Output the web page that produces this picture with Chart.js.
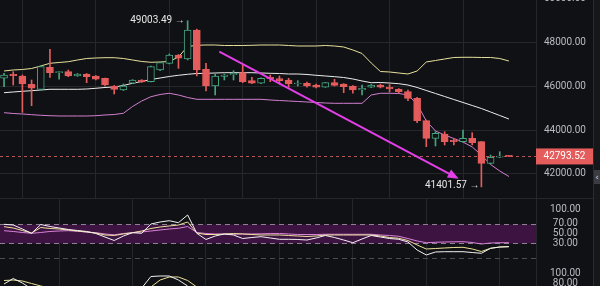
<!DOCTYPE html>
<html>
<head>
<meta charset="utf-8">
<script src="https://cdn.jsdelivr.net/npm/chart.js@4.4.1/dist/chart.umd.min.js"></script>
<style>
  html, body { margin: 0; padding: 0; background: #101114; }
  #wrap { position: relative; width: 600px; height: 286px; overflow: hidden; background: #101114; }
  .pane { position: absolute; left: 0; width: 593px; }
  #mainBox { top: 0; height: 199px; }
  #rsiBox { top: 199px; height: 62px; }
  #kdBox { top: 261px; height: 25px; }
  #strip { position: absolute; left: 593px; top: 0; width: 7px; height: 286px; background: #16171a; border-left: 1px solid #2a2c30; box-sizing: border-box; }
  #handle { position: absolute; left: 0; top: 170px; width: 6px; height: 14px; background: #3a3c41; color: #d8d8d8; font: 9px "DejaVu Sans", sans-serif; line-height: 14px; text-align: center; }
</style>
</head>
<body>
<div id="wrap">
  <div class="pane" id="mainBox"><canvas id="main"></canvas></div>
  <div class="pane" id="rsiBox"><canvas id="rsi"></canvas></div>
  <div class="pane" id="kdBox"><canvas id="kd"></canvas></div>
  <div id="strip"><div id="handle">‹</div></div>
</div>
<script>
// candles, oldest first
const opens  = [46371,46554,46476,46096,45867,46874,46627,46673,46476,46567,46476,46371,46018,45835,46142,46293,46215,46750,47057,47437,47254,48581,46783,46018,46453,46522,46627,46261,46142,46416,46352,46293,46110,46142,46064,45959,46169,46110,46018,45835,45959,46064,45959,45867,45757,45455,44430,43624,43821,43547,43469,43624,43469,42480,42755,42814];
const highs  = [46599,46673,46522,46293,46934,47698,46682,46750,46590,46590,46499,46384,46041,46110,46310,46310,46934,47110,47483,47460,49003.49,48620,47057,46567,46567,46718,46979,46416,46390,46522,46476,46371,46261,46201,46110,46180,46325,46130,46040,46064,46090,46110,46087,45900,45835,45501,44462,43926,43926,43624,44004,43881,43480,42860,43011,42830];
const lows   = [45986,46064,44810,45116,45835,46416,46325,46444,46460,46169,46293,46018,45652,45810,46130,46180,46200,46720,47030,46828,47210,46480,45789,45606,46293,46293,46169,46130,46130,46215,46110,45959,46018,45959,45930,45950,46018,45711,45684,45606,45940,45930,45743,45698,45345,44338,43240,43272,43318,43318,43450,43318,41401.57,42450,42740,42780];
const closes = [46522,46490,46110,45913,46902,46627,46673,46476,46567,46444,46325,46064,45867,46018,46293,46201,46902,47085,47437,47286,48581,46750,46018,46476,46522,46599,46215,46142,46371,46352,46261,46110,46142,46018,45959,46169,46050,45986,45835,45913,46064,45959,45881,45757,45455,44430,43624,43853,43469,43469,43624,43423,42480,42755,42814,42793.52];

// bollinger bands
const bbUpper = [46705,46751,46773,46819,46934,47057,47094,47130,47208,47277,47300,47313,47313,47277,47208,47140,47103,47117,47140,47345,47826,47881,47895,47895,47872,47872,47872,47881,47895,47895,47895,47872,47849,47849,47849,47872,47849,47803,47666,47506,47071,46682,46659,46613,46567,46705,47117,47185,47254,47323,47332,47332,47323,47323,47277,47162];
const bbMid   = [45711,45744,45776,45803,45835,45867,45867,45867,45867,45881,45913,45950,45972,46041,46142,46224,46316,46384,46453,46508,46554,46590,46599,46613,46627,46627,46627,46627,46613,46599,46590,46567,46567,46545,46508,46476,46444,46407,46339,46247,46169,46178,46155,46123,46064,45950,45812,45675,45538,45400,45263,45126,44988,44828,44668,44508];
const bbLower = [44796,44760,44737,44705,44677,44659,44645,44645,44645,44645,44659,44691,44714,44769,45080,45332,45528,45629,45684,45606,45492,45409,45409,45409,45409,45409,45409,45409,45409,45377,45354,45332,45309,45286,45263,45240,45226,45226,45226,45226,45606,45684,45684,45675,45606,45194,44416,43959,43775,43615,43455,43226,42860,42425,42128,41876];

// rsi (6 / 12 / 24)
const rsiFast = [69.4,67.9,59.6,50.7,69,64.8,61.7,58.6,56.5,54.5,50.3,43,35.8,45.1,52,50.7,70,74.1,76.8,72.7,88.7,50.7,37.9,45.1,49.3,47.2,39.9,42,43.7,41,38.3,38.3,37.9,36.8,41,46.2,42,36.8,31.2,38.9,46.2,43,39.9,38.3,32.7,16.1,5.8,12,12.6,12.6,12.6,10.9,9.3,19.6,22.3,23];
const rsiMid  = [64.4,61.7,56.5,51.3,62.7,60.7,59.6,57.6,55.5,53.4,51.3,47.2,46.2,49.3,52,55.5,60.7,63.8,65.9,67.9,74.1,51.3,48.2,48.2,49.3,50.3,49.3,48.2,47.2,47.2,47.2,46.2,45.1,44.1,45.1,47.2,47.2,47.2,47.2,47.2,47.2,45.1,42,40.4,35.8,26.5,18.2,19.2,20.3,21.3,21.7,18.2,13,19.6,22.3,23];
const rsiSlow = [56.1,54.5,52.4,50.7,52.4,54.5,55.5,56.1,54.9,53.4,52,49.3,47.6,50.3,52,53.4,55.5,57.6,59.6,61.1,64.8,52.4,50.3,49.3,48.7,48.7,49.3,49.3,49.7,50.3,50.3,49.3,48.2,48.2,48.2,48.7,48.7,48.7,48.7,48.7,48.7,47.2,46.2,44.5,39.9,34.8,31.2,32.1,32.7,33.1,33.3,31.7,28.5,30.6,31.2,31.2];

// bottom panel (only the top of it is in view)
const kLine = [78,89,80,68,62,58,55,50,46,40,35,28,22,30,48,70,93,94,94,86,74,52,35,30,33,38,32,28,30,27,24,20,22,18,20,28,26,20,15,22,30,28,24,20,14,8,5,12,15,14,20,18,10,20,30,36];
const dLine = [85,86,84,79,74,70,62,56,50,45,40,34,28,27,33,50,72,86,92,92,85,72,54,40,33,34,35,33,30,28,27,24,22,20,20,22,25,25,20,19,22,27,27,24,19,14,9,8,11,14,16,17,14,16,20,29];

const priceTicks = [42000, 44000, 46000, 48000, 50000];
const rsiTicks = [30, 50, 70, 100];
const kdTicks = [80, 100];
const gridCols = [6, 14, 22, 30, 38, 46, 54];
const lastPrice = 42793.52;
const trendLine = [{ x: 23.45, y: 47588 }, { x: 49.24, y: 41839 }];

const BG = "#101114";
const GRID = "#25272b";
const TXT = "#b9bcc2";
const RED = "#e45c5c";
const GREEN = "#45a47f";
const FONT = "Roboto, 'Liberation Sans', sans-serif";

Chart.defaults.font.family = FONT;
Chart.defaults.font.size = 10;
Chart.defaults.color = TXT;

const up = i => closes[i] >= opens[i];

function xAxis() {
  return {
    type: "linear",
    min: -0.44,
    max: 57.95,
    offset: false,
    afterBuildTicks: s => { s.ticks = gridCols.map(v => ({ value: v })); },
    afterFit: s => { s.height = 0; },
    ticks: { display: false },
    grid: { color: GRID, drawTicks: false },
    border: { display: false }
  };
}

function yAxis(min, max, ticks, padding, extra) {
  return Object.assign({
    position: "right",
    min: min,
    max: max,
    afterBuildTicks: s => { s.ticks = ticks.map(v => ({ value: v })); },
    afterFit: s => { s.width = 57; s.paddingTop = 0; s.paddingBottom = 0; },
    ticks: { color: TXT, padding: padding, crossAlign: "center", autoSkip: false, callback: v => Number(v).toFixed(2) },
    grid: { display: false, drawTicks: false },
    border: { color: GRID }
  }, extra || {});
}

const baseOpts = {
  responsive: true,
  maintainAspectRatio: false,
  animation: false,
  events: [],
  layout: { padding: 0 },
  plugins: { legend: { display: false }, tooltip: { enabled: false } }
};

function line(data, color, order) {
  return {
    type: "line",
    data: data.map((v, i) => ({ x: i, y: v })),
    borderColor: color,
    borderWidth: 1,
    pointRadius: 0,
    tension: 0,
    order: order
  };
}

const mainMarks = {
  id: "mainMarks",
  beforeDatasetsDraw(chart) {
    const { ctx, chartArea: a, scales: { y } } = chart;
    const py = Math.round(y.getPixelForValue(lastPrice)) + 0.5;
    ctx.save();
    ctx.strokeStyle = "rgba(214,96,96,0.85)";
    ctx.lineWidth = 1;
    ctx.setLineDash([3, 3]);
    ctx.beginPath();
    ctx.moveTo(a.left, py);
    ctx.lineTo(a.right, py);
    ctx.stroke();
    ctx.restore();
  },
  afterDatasetsDraw(chart) {
    const { ctx, chartArea: a, scales: { x, y } } = chart;
    ctx.save();

    // arrow head on the trend line
    const pts = chart.getDatasetMeta(chart.data.datasets.length - 1).data;
    const p0 = pts[0], p1 = pts[1];
    const ang = Math.atan2(p1.y - p0.y, p1.x - p0.x);
    ctx.fillStyle = "#e33fe8";
    ctx.beginPath();
    ctx.moveTo(p1.x + Math.cos(ang) * 3, p1.y + Math.sin(ang) * 3);
    ctx.lineTo(p1.x - Math.cos(ang) * 8 + Math.sin(ang) * 4.5, p1.y - Math.sin(ang) * 8 - Math.cos(ang) * 4.5);
    ctx.lineTo(p1.x - Math.cos(ang) * 8 - Math.sin(ang) * 4.5, p1.y - Math.sin(ang) * 8 + Math.cos(ang) * 4.5);
    ctx.closePath();
    ctx.fill();

    // highest / lowest labels
    let hi = 0, lo = 0;
    highs.forEach((v, i) => { if (v > highs[hi]) hi = i; });
    lows.forEach((v, i) => { if (v < lows[lo]) lo = i; });
    ctx.font = "10px " + FONT;
    ctx.fillStyle = "#e6e6e6";
    ctx.textAlign = "right";
    ctx.textBaseline = "middle";
    ctx.fillText(highs[hi].toFixed(2) + " →", x.getPixelForValue(hi) - 3, y.getPixelForValue(highs[hi]));
    ctx.fillText(lows[lo].toFixed(2) + " →", x.getPixelForValue(lo) - 2, y.getPixelForValue(lows[lo]) - 1);

    // last price tag
    const py = y.getPixelForValue(lastPrice);
    ctx.fillStyle = RED;
    ctx.fillRect(a.right, py - 8, chart.width - a.right, 16);
    ctx.fillStyle = "#ffffff";
    ctx.textAlign = "center";
    ctx.fillText(lastPrice.toFixed(2), (a.right + chart.width) / 2, py + 0.5);

    // panel separator
    ctx.strokeStyle = GRID;
    ctx.beginPath();
    ctx.moveTo(0, a.bottom - 0.5);
    ctx.lineTo(chart.width, a.bottom - 0.5);
    ctx.stroke();
    ctx.restore();
  }
};

new Chart(document.getElementById("main"), {
  type: "bar",
  data: {
    datasets: [
      line(bbUpper, "#e8e19c", 3),
      line(bbMid, "#ececec", 3),
      line(bbLower, "#d27fd0", 3),
      {
        type: "bar",
        data: lows.map((l, i) => ({ x: i, y: [l, highs[i]] })),
        backgroundColor: c => up(c.dataIndex) ? GREEN : RED,
        barThickness: 1,
        grouped: false,
        order: 2
      },
      {
        type: "bar",
        data: opens.map((o, i) => ({ x: i, y: [o, closes[i]] })),
        backgroundColor: c => up(c.dataIndex) ? BG : RED,
        borderColor: c => up(c.dataIndex) ? GREEN : RED,
        borderWidth: 1,
        borderSkipped: false,
        barThickness: 7,
        minBarLength: 1,
        grouped: false,
        order: 1
      },
      {
        type: "line",
        data: trendLine,
        borderColor: "#e33fe8",
        borderWidth: 2,
        pointRadius: 0,
        order: 0
      }
    ]
  },
  options: Object.assign({}, baseOpts, {
    scales: {
      x: xAxis(),
      y: yAxis(40846, 49954, priceTicks, 8, { grid: { color: GRID, drawTicks: false } })
    }
  }),
  plugins: [mainMarks]
});

const rsiBand = {
  id: "rsiBand",
  beforeDatasetsDraw(chart) {
    const { ctx, chartArea: a, scales: { y } } = chart;
    const y70 = Math.round(y.getPixelForValue(70)) + 0.5;
    const y30 = Math.round(y.getPixelForValue(30)) + 0.5;
    ctx.save();
    ctx.fillStyle = "#3c1341";
    ctx.fillRect(a.left, y70, a.right - a.left, y30 - y70);
    ctx.lineWidth = 1;
    ctx.setLineDash([5, 4]);
    ctx.strokeStyle = "#8b8392";
    [y70, y30].forEach(p => {
      ctx.beginPath();
      ctx.moveTo(a.left, p);
      ctx.lineTo(a.right, p);
      ctx.stroke();
    });
    ctx.strokeStyle = "#4c4d53";
    ctx.beginPath();
    ctx.moveTo(a.left, a.bottom - 2.5);
    ctx.lineTo(a.right, a.bottom - 2.5);
    ctx.stroke();
    ctx.restore();
  }
};

new Chart(document.getElementById("rsi"), {
  type: "line",
  data: {
    datasets: [
      line(rsiSlow, "#d783d6", 2),
      line(rsiMid, "#ece29a", 1),
      line(rsiFast, "#f2f2f2", 0)
    ]
  },
  options: Object.assign({}, baseOpts, {
    scales: { x: xAxis(), y: yAxis(-6.7, 121.8, rsiTicks, 14) }
  }),
  plugins: [rsiBand]
});

new Chart(document.getElementById("kd"), {
  type: "line",
  data: {
    datasets: [
      line(dLine, "#ece29a", 1),
      line(kLine, "#f2f2f2", 0)
    ]
  },
  options: Object.assign({}, baseOpts, {
    scales: { x: xAxis(), y: yAxis(74, 124, kdTicks, 14) }
  })
});
</script>
</body>
</html>
